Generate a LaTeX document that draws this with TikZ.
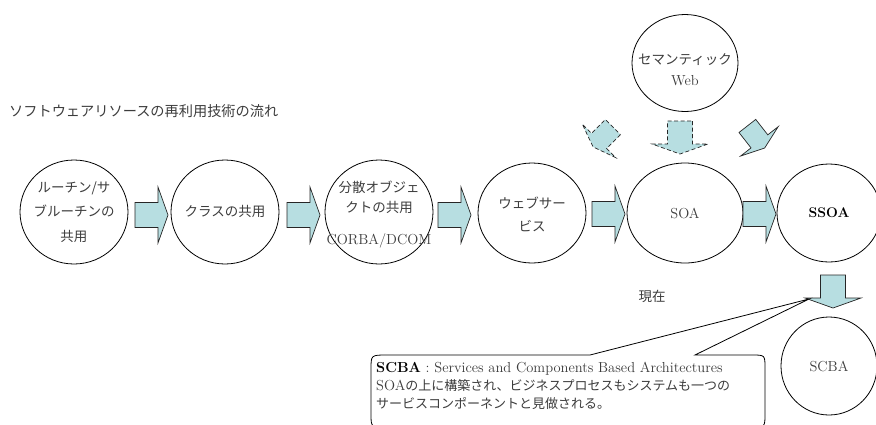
\documentclass[tikz,border=0pt]{standalone}
\usepackage{fontspec}
\usetikzlibrary{shapes.geometric}
\newfontfamily\jp{Noto Sans CJK JP}
\definecolor{arrfill}{RGB}{183,222,225}
\definecolor{txt}{RGB}{60,60,60}
\newcommand\blockarr[3]{%
  \begin{scope}[shift={#1},rotate=#2]
    \draw[#3] (0,-12.5) -- (23,-12.5) -- (23,-28) -- (33,0) -- (23,28) -- (23,12.5) -- (0,12.5) -- cycle;
  \end{scope}}
\newcommand\diagarr[3]{%
  \begin{scope}[shift={#1},rotate=#2,scale=0.85]
    \draw[#3] (-16.5,-12.5) -- (6.5,-12.5) -- (6.5,-28) -- (16.5,0) -- (6.5,28) -- (6.5,12.5) -- (-16.5,12.5) -- cycle;
  \end{scope}}
\begin{document}
\begin{tikzpicture}[x=1pt,y=-1pt,
  ell/.style={draw, ellipse, line width=0.8pt, inner sep=0pt},
  jpl/.style={font=\jp\fontsize{13.5}{23.5}\selectfont, text=txt, align=center, inner sep=0pt},
  latl/.style={font=\rmfamily\fontsize{14.5}{20}\selectfont, text=txt, align=center, inner sep=0pt},
  arrsty/.style={draw=black!85, fill=arrfill, line width=0.7pt, line join=miter},
  darrsty/.style={arrsty, dash pattern=on 4pt off 2.5pt},
]
\useasboundingbox (0,0) rectangle (876,424);

% title
\node[jpl, anchor=west, font=\jp\fontsize{14.2}{18}\selectfont] (title) at (9,111) {ソフトウェアリソースの再利用技術の流れ};

% ellipses
\node[ell, minimum width=108pt, minimum height=104pt] (e1) at (74,212) {};
\node[ell, minimum width=108pt, minimum height=104pt] (e2) at (225,212) {};
\node[ell, minimum width=108pt, minimum height=104pt] (e3) at (379,212) {};
\node[ell, minimum width=108pt, minimum height=100pt] (e4) at (532,213) {};
\node[ell, minimum width=116pt, minimum height=100pt] (e5) at (685,213) {};
\node[ell, minimum width=104pt, minimum height=98pt] (e6) at (829,213) {};
\node[ell, minimum width=106pt, minimum height=97pt] (sw) at (685,63) {};
\node[ell, minimum width=96pt, minimum height=98pt] (scba) at (829,366) {};

% ellipse texts
\node[jpl, font=\jp\fontsize{13.5}{24.5}\selectfont] (t1) at (74,212) {ルーチン/サ\\ブルーチンの\\共用};
\node[jpl] (t2) at (225,211) {クラスの共用};
\node[jpl, font=\jp\fontsize{13.5}{20}\selectfont] (t3a) at (379,197) {分散オブジェ\\クトの共用};
\node[latl] (t3b) at (379,241) {CORBA/DCOM};
\node[jpl] (t4) at (532,214.5) {ウェブサー\\ビス};
\node[latl] (t5) at (685,213) {SOA};
\node[latl, font=\rmfamily\bfseries\fontsize{14}{20}\selectfont, text=black] (t6) at (829,213) {SSOA};
\node[jpl, font=\jp\fontsize{13.5}{21}\selectfont] (tsw) at (685,60) {セマンティック};
\node[latl] (tsw2) at (685,81) {Web};
\node[latl] (tscba) at (829,366) {SCBA};
\node[jpl] (now) at (652,296) {現在};

% horizontal block arrows
\blockarr{(135,215)}{0}{arrsty}
\blockarr{(287,215)}{0}{arrsty}
\blockarr{(438,215)}{0}{arrsty}
\blockarr{(592,214)}{0}{arrsty}
\blockarr{(743,214)}{0}{arrsty}
% down arrow to SCBA
\blockarr{(833,275)}{-90}{arrsty}
% arrows from the semantic web
\blockarr{(680,121)}{-90}{darrsty}
\diagarr{(603,137)}{-135}{darrsty}
\diagarr{(756,137)}{-52}{arrsty}

% callout
\coordinate (tip) at (809,299);
\draw[line width=0.8pt, fill=white] (371,369) .. controls (371,355) .. (387,355) -- (590,355) -- (tip) -- (695,355) -- (752,355) .. controls (765,355) .. (765,368) -- (765,414) .. controls (765,427) .. (752,427) -- (385,427) .. controls (371,427) .. (371,414) -- cycle;
\node[anchor=north west, align=left, inner sep=0pt, font=\rmfamily\fontsize{14.5}{18}\selectfont, text=txt] (cbtext) at (376,362)
  {{\bfseries\color{black}SCBA} : Services and Components Based Architectures\\
   SOA{\jp\fontsize{13}{18}\selectfont の上に構築され、ビジネスプロセスもシステムも一つの}\\
   {\jp\fontsize{13}{18}\selectfont サービスコンポーネントと見做される。}};
\end{tikzpicture}
\end{document}
